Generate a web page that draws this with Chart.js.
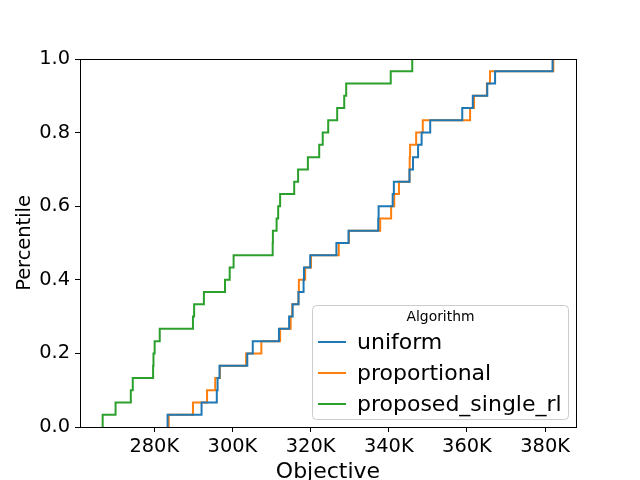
<!DOCTYPE html>
<html><head><meta charset="utf-8">
<script src="https://cdn.jsdelivr.net/npm/chart.js@4/dist/chart.umd.min.js"></script>
<style>html,body{margin:0;padding:0;background:#fff}</style>
</head><body>
<canvas id="c" width="640" height="480"></canvas>
<script>
const seriesNames = ['uniform', 'proportional', 'proposed_single_rl'];
const uniform = [283400, 292100, 296000, 296200, 296700, 303800, 305200, 311900, 314500, 315400, 316900, 318200, 318300, 319900, 326600, 329700, 337300, 337400, 341000, 341300, 345300, 346200, 347500, 348400, 350600, 358800, 361500, 365200, 367200, 381900];
const proportional = [283700, 289900, 293500, 295600, 296800, 303500, 307400, 312200, 314900, 315300, 316900, 317000, 318600, 320100, 327200, 329800, 337800, 340600, 341400, 342600, 345300, 345350, 345450, 347000, 348700, 360800, 361800, 365100, 365900, 382100];
const proposedSingleRl = [266800, 270100, 274000, 274500, 279700, 279800, 280100, 281400, 289900, 290200, 292700, 298100, 299300, 300300, 310300, 310350, 311300, 311700, 312200, 315800, 316800, 319300, 322200, 323100, 324500, 326800, 328600, 329100, 340500, 346000];
const xTicks = [280000, 300000, 320000, 340000, 360000, 380000];
const yTicks = [0, 0.2, 0.4, 0.6, 0.8, 1.0];
const colors = ['#1f77b4', '#ff7f0e', '#2ca02c'];
const FONT = "'DejaVu Sans', sans-serif";

function ecdf(vals) {
  const s = [...vals].sort((a, b) => a - b);
  const n = s.length;
  const pts = [{x: s[0], y: 0}];
  s.forEach((v, i) => pts.push({x: v, y: (i + 1) / n}));
  return pts;
}

const allSeries = [uniform, proportional, proposedSingleRl];
const datasets = allSeries.map((vals, i) => ({
  label: seriesNames[i],
  data: ecdf(vals),
  borderColor: colors[i],
  backgroundColor: colors[i],
  borderWidth: 2,
  pointRadius: 0,
  stepped: 'before',
  fill: false,
  tension: 0
}));

const framePlugin = {
  id: 'frame',
  afterDraw(chart) {
    const {ctx, chartArea: a} = chart;
    ctx.save();
    ctx.strokeStyle = '#000';
    ctx.lineWidth = 1;
    ctx.strokeRect(Math.round(a.left) + 0.5, Math.round(a.top) + 0.5, Math.round(a.right - a.left), Math.round(a.bottom - a.top));
    // legend
    const bx = 312.5, by = 305.5, bw = 256, bh = 114, r = 4;
    ctx.beginPath();
    ctx.moveTo(bx + r, by);
    ctx.lineTo(bx + bw - r, by); ctx.quadraticCurveTo(bx + bw, by, bx + bw, by + r);
    ctx.lineTo(bx + bw, by + bh - r); ctx.quadraticCurveTo(bx + bw, by + bh, bx + bw - r, by + bh);
    ctx.lineTo(bx + r, by + bh); ctx.quadraticCurveTo(bx, by + bh, bx, by + bh - r);
    ctx.lineTo(bx, by + r); ctx.quadraticCurveTo(bx, by, bx + r, by);
    ctx.closePath();
    ctx.fillStyle = 'rgba(255,255,255,0.8)';
    ctx.fill();
    ctx.strokeStyle = '#cccccc';
    ctx.stroke();
    ctx.fillStyle = '#000';
    ctx.textBaseline = 'middle';
    ctx.textAlign = 'center';
    ctx.font = '13.9px ' + FONT;
    ctx.fillText('Algorithm', bx + bw / 2, 317);
    ctx.textAlign = 'left';
    ctx.font = '22px ' + FONT;
    chart.data.datasets.forEach((ds, i) => {
      const y = 342 + i * 31;
      ctx.strokeStyle = ds.borderColor;
      ctx.lineWidth = 2;
      ctx.beginPath(); ctx.moveTo(318, y); ctx.lineTo(346, y); ctx.stroke();
      ctx.fillStyle = '#000';
      ctx.fillText(ds.label, 357, y + 1);
    });
    ctx.restore();
  }
};

new Chart(document.getElementById('c'), {
  type: 'line',
  data: {datasets},
  options: {
    responsive: false,
    animation: false,
    devicePixelRatio: 1,
    layout: {padding: {left: 0, right: 64, top: 59, bottom: 0}},
    plugins: {legend: {display: false}, tooltip: {enabled: false}},
    scales: {
      x: {
        type: 'linear',
        min: 261000,
        max: 387900,
        afterBuildTicks: (s) => { s.ticks = xTicks.map(v => ({value: v})); },
        afterFit: (s) => { s.height = 53; },
        grid: {display: true, drawOnChartArea: false, drawTicks: true, tickLength: 5, color: '#000', tickWidth: 1},
        border: {display: true, color: '#000', width: 1},
        ticks: {color: '#000', font: {family: FONT, size: 19.4}, padding: 3, maxRotation: 0,
          callback: (v) => (v / 1000) + 'K'},
        title: {display: true, text: 'Objective', color: '#000', font: {family: FONT, size: 22, lineHeight: 1}, padding: {top: 0, bottom: -3}}
      },
      y: {
        type: 'linear',
        min: 0,
        max: 1,
        afterBuildTicks: (s) => { s.ticks = yTicks.map(v => ({value: v})); },
        afterFit: (s) => { s.width = 80; },
        grid: {display: true, drawOnChartArea: false, drawTicks: true, tickLength: 5, color: '#000', tickWidth: 1},
        border: {display: true, color: '#000', width: 1},
        ticks: {color: '#000', font: {family: FONT, size: 19.4}, padding: 5,
          callback: (v) => Number(v).toFixed(1)},
        title: {display: true, text: 'Percentile', color: '#000', font: {family: FONT, size: 19.4, lineHeight: 1}, padding: {top: 15, bottom: 0}}
      }
    }
  },
  plugins: [framePlugin]
});
</script>
</body></html>
